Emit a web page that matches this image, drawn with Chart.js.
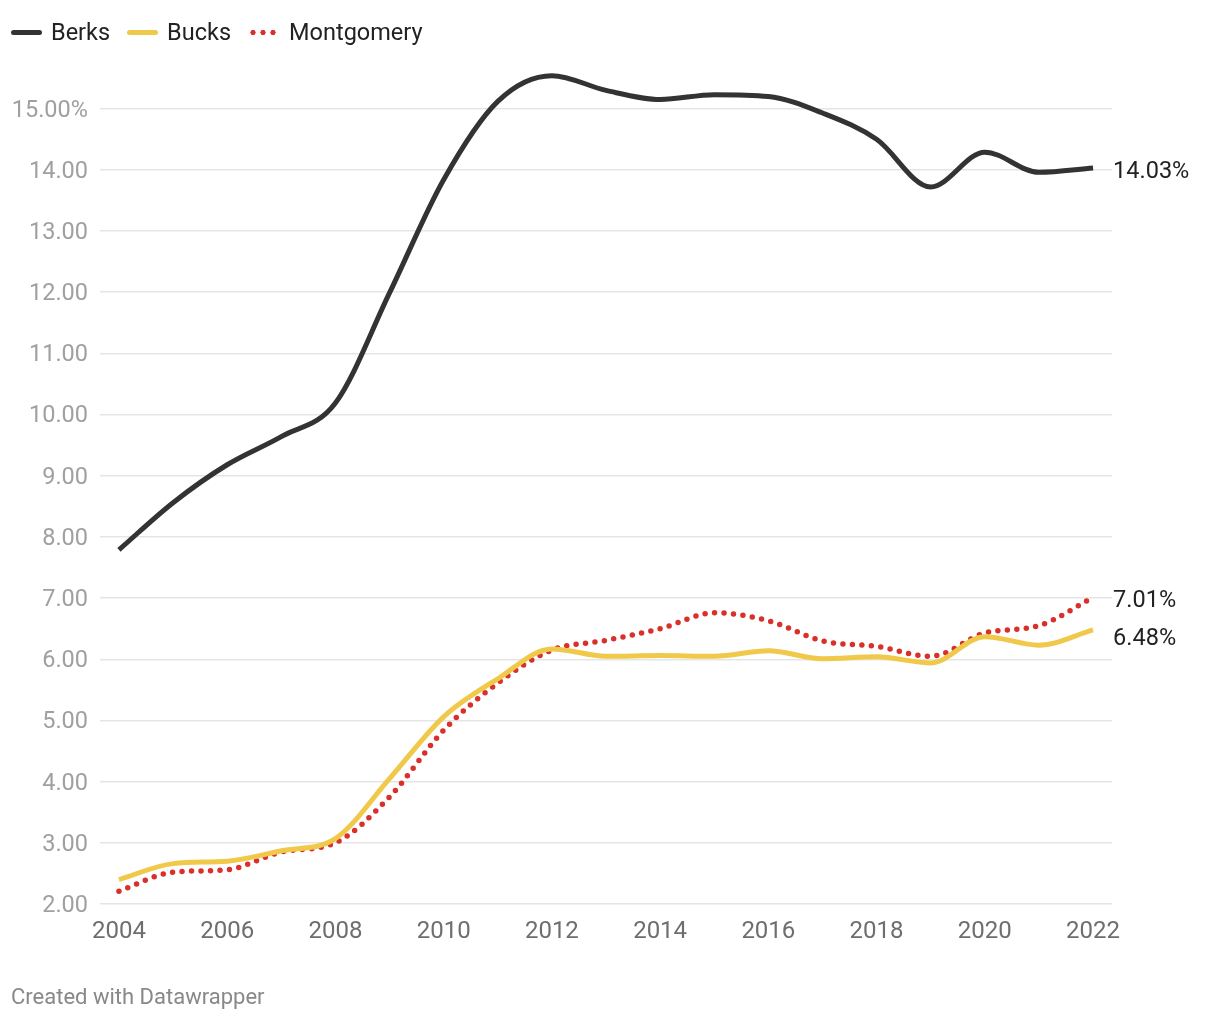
<!DOCTYPE html>
<html>
<head>
<meta charset="utf-8">
<script src="https://cdn.jsdelivr.net/npm/chart.js@4.4.1/dist/chart.umd.min.js"></script>
<style>
  body { margin: 0; background: #fff; font-family: Roboto, "Noto Sans", sans-serif; }
  #wrap { position: relative; width: 1220px; height: 1020px; }
  #legend { position: absolute; left: 11px; top: 17px; font-size: 23.5px; line-height: 30px; color: #222; display: flex; align-items: center; }
  #legend .item { display: flex; align-items: center; margin-right: 17px; }
  #legend .swatch { width: 31px; height: 5px; border-radius: 3px; margin-right: 9px; }
  #legend .dots { width: 28px; height: 5px; margin-right: 13px;
    background: radial-gradient(circle, #d9302a 2.4px, transparent 2.8px) 0 0 / 10px 5px repeat-x; }
  #footer { position: absolute; left: 11px; top: 984px; font-size: 22px; color: #888; }
</style>
</head>
<body>
<div id="wrap">
  <canvas id="chart" width="1220" height="1020"></canvas>
  <div id="legend">
    <div class="item"><span class="swatch" style="background:#333"></span>Berks</div>
    <div class="item"><span class="swatch" style="background:#f0c94b"></span>Bucks</div>
    <div class="item"><span class="dots"></span>Montgomery</div>
  </div>
  <div id="footer">Created with Datawrapper</div>
</div>
<script>
// data
const years = [2004, 2005, 2006, 2007, 2008, 2009, 2010, 2011, 2012, 2013, 2014, 2015, 2016, 2017, 2018, 2019, 2020, 2021, 2022];
const berks = [7.79, 8.56, 9.18, 9.64, 10.19, 11.99, 13.84, 15.12, 15.54, 15.3, 15.15, 15.23, 15.2, 14.93, 14.5, 13.72, 14.29, 13.96, 14.03];
const bucks = [2.40, 2.66, 2.70, 2.87, 3.07, 4.05, 5.06, 5.68, 6.17, 6.05, 6.06, 6.05, 6.14, 6.01, 6.04, 5.94, 6.37, 6.23, 6.48];
const montgomery = [2.21, 2.52, 2.56, 2.85, 3.0, 3.75, 4.84, 5.61, 6.15, 6.31, 6.50, 6.76, 6.63, 6.3, 6.21, 6.05, 6.43, 6.55, 7.01];
const xTicks = [2004, 2006, 2008, 2010, 2012, 2014, 2016, 2018, 2020, 2022];
const yTicks = [2, 3, 4, 5, 6, 7, 8, 9, 10, 11, 12, 13, 14, 15];

const toPoints = arr => arr.map((v, i) => ({ x: years[i], y: v }));

// labels at the end of each line; a lower label is pushed down when it collides
const endLabels = {
  id: 'endLabels',
  afterDatasetsDraw(chart) {
    const ctx = chart.ctx;
    const xs = chart.scales.x, ys = chart.scales.y;
    const items = chart.data.datasets.map(ds => {
      const last = ds.data[ds.data.length - 1];
      return { text: last.y.toFixed(2) + '%', y: ys.getPixelForValue(last.y) + 4, x: xs.getPixelForValue(last.x) + 20 };
    }).sort((a, b) => a.y - b.y);
    for (let i = 1; i < items.length; i++) {
      if (items[i].y - items[i - 1].y < 38) items[i].y = items[i - 1].y + 38;
    }
    ctx.save();
    ctx.font = '23.5px Roboto';
    ctx.fillStyle = '#222';
    ctx.textAlign = 'left';
    ctx.textBaseline = 'middle';
    items.forEach(it => ctx.fillText(it.text, it.x, it.y));
    ctx.restore();
  }
};

new Chart(document.getElementById('chart'), {
  type: 'line',
  data: {
    datasets: [
      { label: 'Berks', data: toPoints(berks), borderColor: '#333333', borderWidth: 5 },
      { label: 'Bucks', data: toPoints(bucks), borderColor: '#f0c94b', borderWidth: 5 },
      { label: 'Montgomery', data: toPoints(montgomery), borderColor: '#d9302a', borderWidth: 5.5,
        borderDash: [0, 9.5], borderCapStyle: 'round' }
    ]
  },
  options: {
    responsive: false,
    animation: false,
    layout: { padding: { top: 72, left: 0, right: 108, bottom: 66 } },
    elements: {
      point: { radius: 0 },
      line: { cubicInterpolationMode: 'monotone', borderJoinStyle: 'round' }
    },
    plugins: { legend: { display: false }, tooltip: { enabled: false } },
    scales: {
      x: {
        type: 'linear',
        min: 2003.65,
        max: 2022.35,
        afterBuildTicks: s => { s.ticks = xTicks.map(v => ({ value: v })); },
        afterFit: s => { s.height = 50; },
        grid: { display: false },
        border: { display: false },
        ticks: {
          padding: 6,
          color: '#6e6e6e',
          font: { family: 'Roboto', size: 24 },
          maxRotation: 0,
          callback: v => String(v)
        }
      },
      y: {
        min: 2,
        max: 15.6,
        afterBuildTicks: s => { s.ticks = yTicks.map(v => ({ value: v })); },
        afterFit: s => { s.width = 100; },
        grid: { color: '#e5e5e5', lineWidth: 1.5, drawTicks: false },
        border: { display: false },
        ticks: {
          padding: 12,
          labelOffset: 2,
          color: '#a0a0a0',
          font: { family: 'Roboto', size: 23.5 },
          callback: v => v === 15 ? '15.00%' : v.toFixed(2)
        }
      }
    }
  },
  plugins: [endLabels]
});
</script>
</body>
</html>
